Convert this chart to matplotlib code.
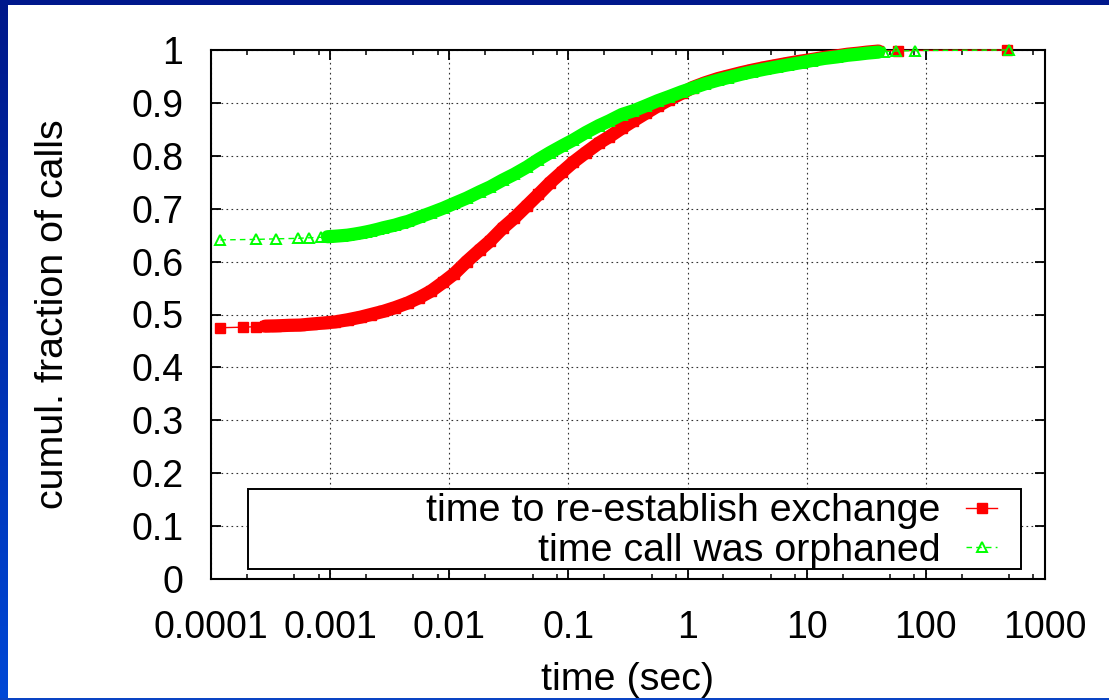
import numpy as np
import matplotlib
matplotlib.use("Agg")
import matplotlib.pyplot as plt
from matplotlib.patches import Rectangle
from matplotlib.ticker import LogLocator, FixedLocator, FixedFormatter, NullFormatter
from matplotlib.colors import LinearSegmentedColormap

plt.rcParams['font.family'] = ['Liberation Sans', 'DejaVu Sans']

# ---------------- data ----------------
x_tick_values = [1e-4, 1e-3, 1e-2, 1e-1, 1, 10, 100, 1000]
x_tick_labels = ["0.0001", "0.001", "0.01", "0.1", "1", "10", "100", "1000"]
y_tick_values = [0, 0.1, 0.2, 0.3, 0.4, 0.5, 0.6, 0.7, 0.8, 0.9, 1.0]
y_tick_labels = ["0", "0.1", "0.2", "0.3", "0.4", "0.5", "0.6", "0.7", "0.8", "0.9", "1"]

x_label = "time (sec)"
y_label = "cumul. fraction of calls"

red_label = "time to re-establish exchange"
red_time = [1.2e-4, 1.85e-4, 2.4e-4, 2.85e-4, 3.5e-4, 4.5e-4, 5.6e-4, 7e-4, 8.9e-4,
            1.1e-3, 1.4e-3, 1.8e-3, 2.2e-3, 2.8e-3, 3.5e-3, 4.5e-3, 5.6e-3, 7e-3, 8.9e-3,
            0.011, 0.014, 0.018, 0.022, 0.028, 0.035, 0.045, 0.056, 0.07, 0.089,
            0.11, 0.14, 0.18, 0.22, 0.28, 0.35, 0.45, 0.56, 0.7, 0.89,
            1.1, 1.4, 1.8, 2.2, 2.8, 3.5, 4.5, 5.6, 7, 8.9,
            11, 14, 18, 22, 27, 32, 40, 58.6, 482]
red_frac = [0.475, 0.476, 0.477, 0.478, 0.4785, 0.4795, 0.480, 0.482, 0.484,
            0.486, 0.490, 0.495, 0.500, 0.506, 0.513, 0.522, 0.532, 0.544, 0.561,
            0.577, 0.600, 0.622, 0.639, 0.663, 0.682, 0.706, 0.727, 0.749, 0.770,
            0.788, 0.806, 0.824, 0.836, 0.852, 0.866, 0.881, 0.894, 0.906, 0.918,
            0.929, 0.938, 0.946, 0.951, 0.957, 0.962, 0.967, 0.971, 0.975, 0.979,
            0.982, 0.986, 0.989, 0.992, 0.994, 0.996, 0.998, 0.999, 1.0]

green_label = "time call was orphaned"
green_time = [1.2e-4, 2.4e-4, 3.5e-4, 5.4e-4, 6.6e-4, 8.4e-4, 9.5e-4,
              1.1e-3, 1.25e-3, 1.4e-3, 1.6e-3, 1.8e-3, 2.0e-3, 2.2e-3, 2.5e-3, 2.8e-3,
              3.2e-3, 3.5e-3, 4e-3, 4.5e-3, 5.6e-3, 7e-3, 8.9e-3,
              0.011, 0.014, 0.018, 0.022, 0.028, 0.035, 0.045, 0.056, 0.07, 0.089,
              0.11, 0.14, 0.18, 0.22, 0.28, 0.35, 0.45, 0.56, 0.7, 0.89,
              1.1, 1.4, 1.8, 2.2, 2.8, 3.5, 4.5, 5.6, 7, 8.9,
              11, 14, 18, 22, 27, 32, 40, 44.3, 56, 81, 501]
green_frac = [0.641, 0.642, 0.643, 0.644, 0.645, 0.646, 0.647,
              0.648, 0.649, 0.650, 0.652, 0.654, 0.656, 0.658, 0.661, 0.664,
              0.667, 0.669, 0.673, 0.676, 0.684, 0.692, 0.701,
              0.710, 0.720, 0.732, 0.741, 0.754, 0.765, 0.779, 0.793, 0.806, 0.819,
              0.830, 0.844, 0.857, 0.866, 0.878, 0.885, 0.895, 0.904, 0.912, 0.921,
              0.928, 0.936, 0.943, 0.948, 0.954, 0.959, 0.964, 0.968, 0.972, 0.976,
              0.980, 0.984, 0.987, 0.990, 0.992, 0.994, 0.996, 0.997, 0.998, 0.999, 1.0]

# ---------------- figure ----------------
W, H = 1109, 700
fig = plt.figure(figsize=(W / 100, H / 100), dpi=100)
fig.patch.set_facecolor('white')

# blue frame (left gradient, top band, bottom line)
bax = fig.add_axes([0, 0, 7.5 / W, 1])
grad = np.linspace(0, 1, 256).reshape(-1, 1)
cmap = LinearSegmentedColormap.from_list('frame', ['#00188a', '#0048d6'])
bax.imshow(grad, aspect='auto', cmap=cmap, origin='upper', extent=[0, 1, 0, 1])
bax.set_axis_off()
fig.patches.append(Rectangle((0, 1 - 5 / H), 1, 5 / H, transform=fig.transFigure,
                             facecolor='#00188c', edgecolor='none', zorder=5))
fig.patches.append(Rectangle((0, 0), 1, 2 / H, transform=fig.transFigure,
                             facecolor='#0a44c4', edgecolor='none', zorder=5))

x0, x1, yb, yt = 211, 1045, 579, 50
ax = fig.add_axes([x0 / W, (H - yb) / H, (x1 - x0) / W, (yb - yt) / H])

red_t = np.array(red_time)
red_f = np.array(red_frac)
green_t = np.array(green_time)
green_f = np.array(green_frac)

red_band = (red_t >= 2.8e-4) & (red_t <= 40)
green_band = (green_t >= 9e-4) & (green_t <= 44)

ax.plot(red_t[red_band], red_f[red_band], '-', color='#ff0000', lw=9.5,
        solid_capstyle='round', solid_joinstyle='round', zorder=3, clip_on=False)
red_line, = ax.plot(red_t, red_f, '-', color='#ff0000', lw=1.0, marker='s', ms=7.0,
                    mec='#ff0000', mfc='#ff0000', zorder=3.1, clip_on=False)

ax.plot(green_t[green_band], green_f[green_band], '-', color='#00ff00', lw=9.5,
        solid_capstyle='round', solid_joinstyle='round', zorder=3.2, clip_on=False)
green_line, = ax.plot(green_t, green_f, color='#00ff00', lw=1.0, ls=(0, (4, 3)),
                      marker='^', ms=7.5, mec='#00ff00', mfc='none', mew=1.4,
                      zorder=3.3, clip_on=False)

ax.set_xscale('log')
ax.set_xlim(1e-4, 1e3)
ax.set_ylim(0, 1)

ax.xaxis.set_major_locator(FixedLocator(x_tick_values))
ax.xaxis.set_major_formatter(FixedFormatter(x_tick_labels))
ax.xaxis.set_minor_locator(LogLocator(base=10, subs=(2, 5, 8)))
ax.xaxis.set_minor_formatter(NullFormatter())
ax.yaxis.set_major_locator(FixedLocator(y_tick_values))
ax.yaxis.set_major_formatter(FixedFormatter(y_tick_labels))

ax.tick_params(which='both', direction='in', top=True, right=True, colors='black')
ax.tick_params(which='major', length=7.2, width=1.3, labelsize=27)
ax.tick_params(which='minor', length=3.6, width=1.1)
ax.tick_params(axis='x', which='major', pad=22)
ax.tick_params(axis='y', which='major', pad=20)

for s in ax.spines.values():
    s.set_linewidth(1.5)
    s.set_zorder(2.9)

ax.set_axisbelow(True)
ax.grid(True, which='major', color='#333333', linestyle=(0, (1.5, 3)), linewidth=0.8)

# legend frame
ax.add_patch(Rectangle((0.0447, 0.0183), 0.926, 0.1512, transform=ax.transAxes,
                       facecolor='white', edgecolor='black', lw=1.4, zorder=1))
leg = ax.legend([red_line, green_line], [red_label, green_label],
                loc='center right', bbox_to_anchor=(0.9424, 0.0907),
                markerfirst=False, frameon=False, fontsize=28.4, numpoints=1,
                handlelength=0.78, handletextpad=0.66, labelspacing=0.08,
                borderpad=0, borderaxespad=0)
leg.set_zorder(4)

ax.set_xlabel(x_label, fontsize=28.4)
ax.set_ylabel(y_label, fontsize=28.4)
ax.xaxis.set_label_coords(0.5, -0.156)
ax.yaxis.set_label_coords(-0.168, 0.5)

fig.savefig('out.png', dpi=100, facecolor='white')
